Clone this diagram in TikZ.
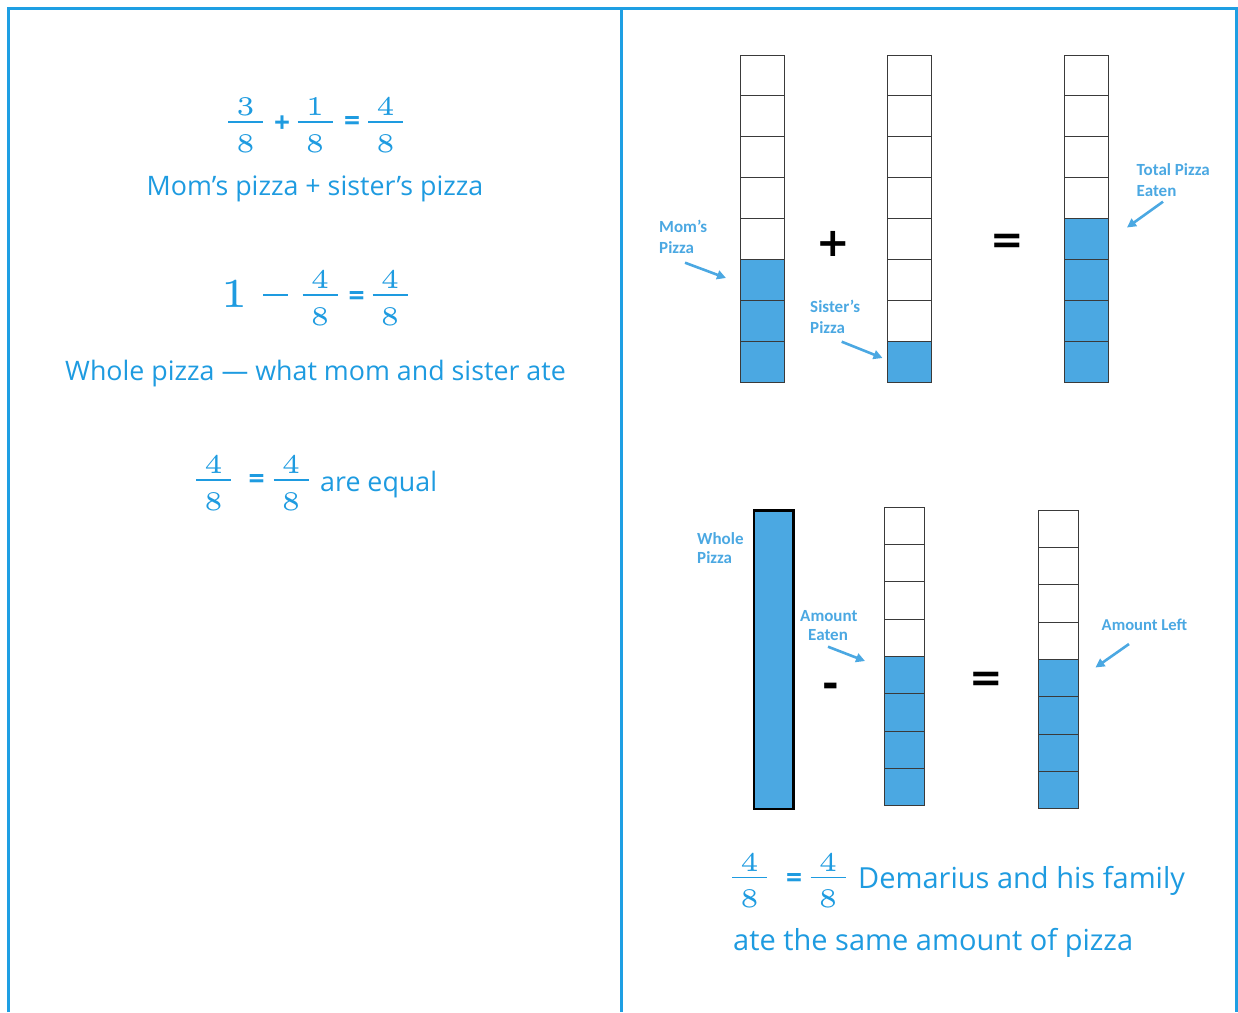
\documentclass[tikz,border=0pt]{standalone}
\usepackage{fontspec}
\newfontfamily\os{Open Sans}
\newfontfamily\lb{Carlito}
\newfontfamily\dv{DejaVu Sans}
\newfontfamily\nm{lmroman5-regular}[Extension=.otf]
\usetikzlibrary{arrows.meta}
\definecolor{tblue}{HTML}{1E9BE0}
\definecolor{fblue}{HTML}{4BA8E2}
\definecolor{framec}{HTML}{1E9FE3}
\definecolor{cellc}{HTML}{3A3A3A}
\newcommand\fracat[5]{% name, x, y(bar), num, den
  \node[dig] (#1n) at (#2,#3-6.5) {#4};
  \node[dig] (#1d) at (#2,#3+30) {#5};
  \draw[fbar] (#2-17.5,#3) -- (#2+17.5,#3);
}
\begin{document}
\begin{tikzpicture}[x=1pt,y=-1pt,
  txt/.style={text=tblue, font=\os\fontsize{26.8}{30}\selectfont, inner sep=0},
  txtb/.style={text=tblue, font=\os\fontsize{29}{32}\selectfont, inner sep=0},
  dig/.style={text=tblue, font=\nm\fontsize{27}{30}\selectfont, inner sep=0, anchor=base},
  opb/.style={text=tblue, font=\os\bfseries\fontsize{28}{30}\selectfont, inner sep=0},
  fbar/.style={draw=tblue, line width=1.8pt},
  lbl/.style={text=fblue, font=\lb\bfseries\fontsize{17}{20}\selectfont, inner sep=0, anchor=base west},
  blk/.style={font=\dv\bfseries\fontsize{40}{44}\selectfont, inner sep=0},
  arr/.style={draw=fblue, line width=2.6pt, -{Triangle[length=9pt,width=9pt]}},
  cell/.style={draw=cellc, line width=0.9pt},
  fcell/.style={draw=cellc, line width=0.9pt, fill=fblue},
  frame/.style={draw=framec, line width=3pt}
]
\useasboundingbox (0,0) rectangle (1238,1012);
% frame
\draw[frame] (8.5,1012) -- (8.5,8.5) -- (1236.5,8.5) -- (1236.5,1012);
\draw[frame] (621.5,8.5) -- (621.5,1012);

% ---------- left panel ----------
\fracat{a}{245.5}{122}{3}{8}
\node[opb] (aplus) at (282,124) {+};
\fracat{b}{315}{122}{1}{8}
\node[opb] (aeq) at (352,123) {=};
\fracat{c}{385.5}{122}{4}{8}
\node[txt, anchor=base] (t1) at (315,195) {Mom’s pizza + sister’s pizza};

\node[dig, font=\nm\fontsize{41}{44}\selectfont] (one) at (234,307) {1};
\draw[fbar, line width=1.6pt] (263,295) -- (288,295);
\fracat{d}{320}{295}{4}{8}
\node[opb] (beq) at (356.5,298) {=};
\fracat{e}{390}{295}{4}{8}
\node[txt, anchor=base west] (t2) at (65,380) {Whole pizza — what mom and sister ate};

\fracat{f}{213.5}{480}{4}{8}
\node[opb] (ceq) at (256.5,481) {=};
\fracat{g}{291}{480}{4}{8}
\node[txt, anchor=base west] (t3) at (320,491.5) {are equal};

% ---------- right panel, top ----------
\foreach \i in {0,...,7}{
  \pgfmathsetmacro\ya{55+\i*40.875}
  \pgfmathsetmacro\yb{55+(\i+1)*40.875}
  \ifnum\i>4 \draw[fcell] (740,\ya) rectangle (784.5,\yb);
  \else \draw[cell] (740,\ya) rectangle (784.5,\yb); \fi
}
\foreach \i in {0,...,7}{
  \pgfmathsetmacro\ya{55+\i*40.875}
  \pgfmathsetmacro\yb{55+(\i+1)*40.875}
  \ifnum\i>6 \draw[fcell] (887,\ya) rectangle (931.5,\yb);
  \else \draw[cell] (887,\ya) rectangle (931.5,\yb); \fi
}
\foreach \i in {0,...,7}{
  \pgfmathsetmacro\ya{55+\i*40.875}
  \pgfmathsetmacro\yb{55+(\i+1)*40.875}
  \ifnum\i>3 \draw[fcell] (1064,\ya) rectangle (1108.5,\yb);
  \else \draw[cell] (1064,\ya) rectangle (1108.5,\yb); \fi
}
\node[blk] (plus) at (833.5,244) {+};
\node[blk] (eq1) at (1007,243.5) {=};

\node[lbl] (mom1) at (659,232.7) {Mom’s};
\node[lbl] (mom2) at (659,253.2) {Pizza};
\coordinate (mA) at (685,262.7); \coordinate (mB) at (726,278);
\draw[arr] (mA) -- (mB);

\node[lbl] (sis1) at (810,312.7) {Sister’s};
\node[lbl] (sis2) at (810,333.2) {Pizza};
\coordinate (sA) at (841.7,341.7); \coordinate (sB) at (882.5,358);
\draw[arr] (sA) -- (sB);

\node[lbl] (tot1) at (1136.5,175) {Total Pizza};
\node[lbl] (tot2) at (1136.5,196.5) {Eaten};
\coordinate (tA) at (1163,201.7); \coordinate (tB) at (1127,227.5);
\draw[arr] (tA) -- (tB);

% ---------- right panel, bottom ----------
\draw[draw=black, line width=2.6pt, fill=fblue] (754,510.5) rectangle (793.5,809);
\foreach \i in {0,...,7}{
  \pgfmathsetmacro\ya{507+\i*37.35}
  \pgfmathsetmacro\yb{507+(\i+1)*37.35}
  \ifnum\i>3 \draw[fcell] (884.5,\ya) rectangle (924.5,\yb);
  \else \draw[cell] (884.5,\ya) rectangle (924.5,\yb); \fi
}
\foreach \i in {0,...,7}{
  \pgfmathsetmacro\ya{510+\i*37.35}
  \pgfmathsetmacro\yb{510+(\i+1)*37.35}
  \ifnum\i>3 \draw[fcell] (1038.5,\ya) rectangle (1078.5,\yb);
  \else \draw[cell] (1038.5,\ya) rectangle (1078.5,\yb); \fi
}
\node[blk] (minus) at (830.5,690) {-};
\node[blk] (eq2) at (986,681.5) {=};

\node[lbl] (wh1) at (697,544) {Whole};
\node[lbl] (wh2) at (697,563.5) {Pizza};

\node[lbl] (am1) at (800,621.5) {Amount};
\node[lbl] (am2) at (808,640.5) {Eaten};
\coordinate (eA) at (828,646.7); \coordinate (eB) at (865,661);
\draw[arr] (eA) -- (eB);

\node[lbl, font=\lb\bfseries\fontsize{16.6}{20}\selectfont] (left1) at (1101.5,630) {Amount Left};
\coordinate (lA) at (1129,644); \coordinate (lB) at (1095.5,667.5);
\draw[arr] (lA) -- (lB);

\fracat{h}{749.5}{877.5}{4}{8}
\node[opb] (deq) at (794,880) {=};
\fracat{i}{828}{877.5}{4}{8}
\node[txtb, anchor=base west] (t4) at (858,888) {Demarius and his family};
\node[txtb, anchor=base west] (t5) at (733,950) {ate the same amount of pizza};
\end{tikzpicture}
\end{document}
